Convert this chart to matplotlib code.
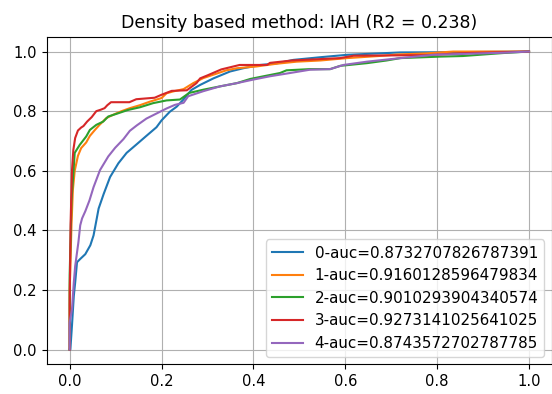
import matplotlib.pyplot as plt

# ROC points (false positive rate, true positive rate) for each class
fpr_0 = [0, 0.0015, 0.005, 0.009, 0.012, 0.016, 0.023, 0.034, 0.045, 0.052, 0.059, 0.063,
         0.074, 0.088, 0.106, 0.124, 0.146, 0.167, 0.189, 0.2, 0.218, 0.233, 0.247, 0.265,
         0.284, 0.313, 0.349, 0.378, 0.415, 0.45, 0.487, 0.546, 0.604, 0.72, 0.85, 1.0]
tpr_0 = [0, 0.0, 0.08, 0.18, 0.225, 0.293, 0.304, 0.32, 0.35, 0.383, 0.44, 0.473,
         0.522, 0.579, 0.625, 0.66, 0.689, 0.717, 0.746, 0.769, 0.798, 0.815, 0.838, 0.871,
         0.888, 0.91, 0.933, 0.944, 0.955, 0.96, 0.972, 0.981, 0.989, 0.997, 0.998, 1.0]

fpr_1 = [0, 0.0, 0.004, 0.007, 0.011, 0.018, 0.025, 0.036, 0.044, 0.055, 0.065, 0.08,
         0.095, 0.113, 0.131, 0.153, 0.175, 0.2, 0.211, 0.225, 0.248, 0.269, 0.291, 0.32,
         0.341, 0.364, 0.407, 0.45, 0.494, 0.546, 0.604, 0.683, 0.712, 0.778, 0.835, 1.0]
tpr_1 = [0, 0.2, 0.42, 0.536, 0.6, 0.65, 0.676, 0.695, 0.717, 0.737, 0.754, 0.777,
         0.788, 0.8, 0.81, 0.82, 0.832, 0.844, 0.86, 0.866, 0.874, 0.894, 0.911, 0.926,
         0.937, 0.944, 0.95, 0.959, 0.966, 0.97, 0.978, 0.986, 0.99, 0.994, 1.0, 1.0]

fpr_2 = [0, 0.0, 0.004, 0.011, 0.022, 0.036, 0.044, 0.058, 0.073, 0.084, 0.102, 0.127,
         0.153, 0.182, 0.211, 0.24, 0.25, 0.26, 0.291, 0.327, 0.364, 0.393, 0.422, 0.458,
         0.472, 0.523, 0.567, 0.589, 0.647, 0.69, 0.72, 0.807, 0.856, 0.9, 0.944, 1.0]
tpr_2 = [0, 0.25, 0.5, 0.66, 0.687, 0.715, 0.737, 0.754, 0.765, 0.782, 0.791, 0.804,
         0.813, 0.827, 0.836, 0.839, 0.85, 0.861, 0.872, 0.883, 0.894, 0.908, 0.917, 0.928,
         0.937, 0.941, 0.941, 0.952, 0.961, 0.97, 0.978, 0.983, 0.985, 0.99, 0.995, 1.0]

fpr_3 = [0, 0.0, 0.002, 0.005, 0.008, 0.012, 0.018, 0.025, 0.03, 0.038, 0.048, 0.058,
         0.068, 0.076, 0.082, 0.09, 0.13, 0.145, 0.185, 0.2, 0.222, 0.255, 0.276, 0.284,
         0.3, 0.315, 0.33, 0.37, 0.43, 0.436, 0.484, 0.589, 0.618, 0.777, 0.865, 1.0]
tpr_3 = [0, 0.15, 0.42, 0.6, 0.67, 0.71, 0.735, 0.745, 0.75, 0.765, 0.78, 0.8,
         0.805, 0.81, 0.82, 0.83, 0.83, 0.84, 0.845, 0.855, 0.868, 0.87, 0.894, 0.91,
         0.92, 0.93, 0.94, 0.955, 0.955, 0.962, 0.97, 0.978, 0.986, 0.988, 0.995, 1.0]

fpr_4 = [0, 0.0, 0.005, 0.009, 0.012, 0.019, 0.023, 0.027, 0.034, 0.043, 0.052, 0.066,
         0.084, 0.099, 0.117, 0.131, 0.146, 0.167, 0.189, 0.211, 0.229, 0.248, 0.258, 0.291,
         0.327, 0.364, 0.4, 0.436, 0.472, 0.523, 0.567, 0.596, 0.647, 0.72, 0.792, 0.944, 1.0]
tpr_4 = [0, 0.09, 0.135, 0.225, 0.28, 0.36, 0.417, 0.44, 0.464, 0.5, 0.545, 0.602,
         0.648, 0.677, 0.706, 0.734, 0.752, 0.775, 0.792, 0.809, 0.821, 0.828, 0.85, 0.867,
         0.883, 0.894, 0.906, 0.917, 0.926, 0.939, 0.941, 0.955, 0.966, 0.978, 0.989, 0.996, 1.0]

auc_scores = [0.8732707826787391, 0.9160128596479834, 0.9010293904340574,
              0.9273141025641025, 0.8743572702787785]

curves = [(fpr_0, tpr_0), (fpr_1, tpr_1), (fpr_2, tpr_2), (fpr_3, tpr_3), (fpr_4, tpr_4)]

fig = plt.figure(figsize=(5.52, 3.94), dpi=100)
ax = fig.add_axes([0.0846, 0.075, 0.9154, 0.832])

for i, (fpr, tpr) in enumerate(curves):
    ax.plot(fpr, tpr, linewidth=1.5, label=str(i) + "-auc=" + str(auc_scores[i]))

ax.set_title("Density based method: IAH (R2 = 0.238)", fontsize=12.5)
ax.tick_params(labelsize=10.6)
ax.grid(True)
ax.legend(loc="lower right", fontsize=10.9)

fig.savefig("out.png", dpi=100)
